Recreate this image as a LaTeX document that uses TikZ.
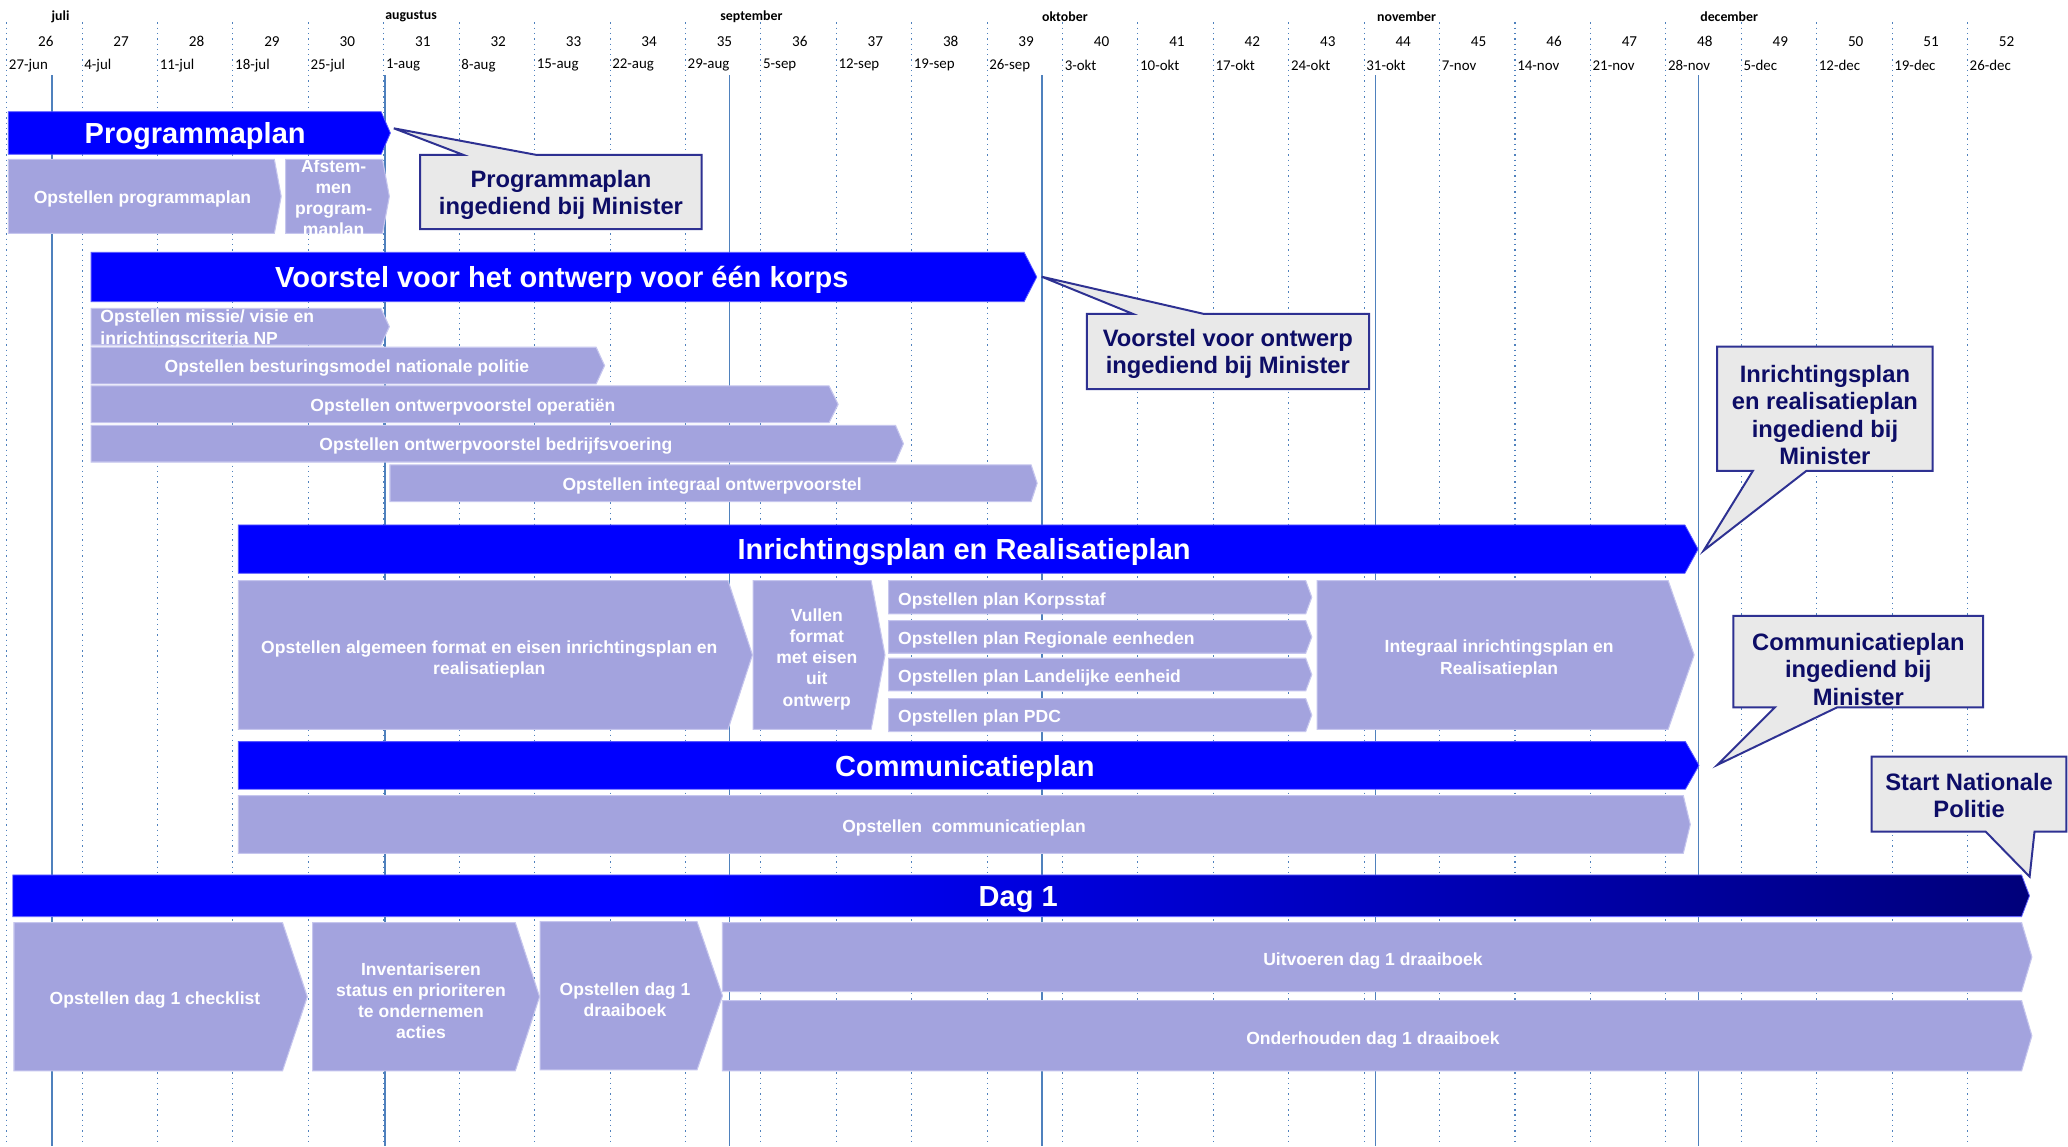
\documentclass[tikz,border=0pt]{standalone}
\usepackage{fontspec}
\setmainfont{Liberation Sans}
\newfontfamily\hdrfont{Carlito}
\definecolor{barblue}{HTML}{0000FF}
\definecolor{lightbox}{HTML}{A3A3DE}
\definecolor{lightedge}{HTML}{C6C6EE}
\definecolor{calfill}{HTML}{E9E9E9}
\definecolor{caledge}{HTML}{2E3192}
\definecolor{caltext}{HTML}{0D0D66}
\definecolor{gridblue}{HTML}{4F81BD}
\definecolor{dagend}{HTML}{00007A}
\pgfdeclarehorizontalshading{dagshade}{100bp}{color(0bp)=(barblue); color(25bp)=(barblue); color(42bp)=(barblue); color(75bp)=(dagend); color(100bp)=(dagend)}
\newcommand{\chevbox}[6]{\path[#1] (#2,#3) -- (#4,#3) -- ({#4+#6},{(#3+#5)/2}) -- (#4,#5) -- (#2,#5) -- cycle;}
\newcommand{\chevclip}[5]{\clip (#1,#2) -- (#3,#2) -- ({#3+#5},{(#2+#4)/2}) -- (#3,#4) -- (#1,#4) -- cycle;}
\tikzset{
  bluebar/.style={fill=barblue, draw=barblue!65!white, line width=0.6},
  lightbar/.style={fill=lightbox, draw=lightedge, line width=0.8},
  dagbar/.style={shading=dagshade, draw=barblue!60!white, line width=0.6},
  callbox/.style={fill=calfill, draw=caledge, line width=1.5, line join=miter},
  griddot/.style={draw=gridblue, line width=0.8, dash pattern=on 1pt off 3pt},
  gridsolid/.style={draw=gridblue, line width=1.1},
  barlbl/.style={text=white, font=\bfseries\fontsize{22}{24}\selectfont, inner sep=0, yshift=-2.5pt},
  boxlbl/.style={text=white, font=\bfseries\fontsize{13.3}{16}\selectfont, align=center, inner sep=0, yshift=-2pt},
  calllbl/.style={text=caltext, font=\bfseries\fontsize{18}{20.8}\selectfont, align=center, inner sep=0, yshift=-1.5pt},
  hdrmonth/.style={font=\hdrfont\bfseries\fontsize{10.5}{12}\selectfont, inner sep=0, anchor=west},
  hdrnum/.style={font=\hdrfont\fontsize{11.5}{13}\selectfont, inner sep=0},
  hdrdate/.style={font=\hdrfont\fontsize{11.3}{13}\selectfont, inner sep=0, anchor=west}
}
\begin{document}
\begin{tikzpicture}[x=1pt,y=-1pt]
\useasboundingbox (0,0) rectangle (1568,869);
\fill[white] (0,0) rectangle (1568,869);
% grid
\foreach \k in {0,...,26} \draw[griddot] ({5.1+57.18*\k},17) -- ({5.1+57.18*\k},869);
\foreach \x in {39.5,292,553,790,1043,1288} \draw[gridsolid] (\x,57) -- (\x,869);
% header
\node[hdrmonth] (mJul) at (39,12.6) {juli};
\node[hdrmonth] (mAug) at (292,12.6) {augustus};
\node[hdrmonth] (mSep) at (546,12.6) {september};
\node[hdrmonth] (mOkt) at (790,12.6) {oktober};
\node[hdrmonth] (mNov) at (1044,12.6) {november};
\node[hdrmonth] (mDec) at (1289,12.6) {december};
\foreach \k in {0,...,26} {
  \pgfmathtruncatemacro{\wk}{26+\k}
  \node[hdrnum] (w\wk) at ({5.1+57.18*(\k+0.5)+1},31.6) {\wk};
}
\foreach \d [count=\k from 0] in {27-jun,4-jul,11-jul,18-jul,25-jul,1-aug,8-aug,15-aug,22-aug,29-aug,5-sep,12-sep,19-sep,26-sep,3-okt,10-okt,17-okt,24-okt,31-okt,7-nov,14-nov,21-nov,28-nov,5-dec,12-dec,19-dec,26-dec}
  \node[hdrdate] (d\k) at ({5.1+57.18*\k+1.5},49.5) {\d};

% ---------- Programmaplan
\chevbox{bluebar}{6.3}{84.7}{289}{117}{7}
\node[barlbl] (progbar) at (148,101) {Programmaplan};
\coordinate (progtip) at (298.6,97.3);
\chevbox{lightbar}{6.3}{120.8}{208}{177}{5.2}
\node[boxlbl] (opprog) at (108,149) {Opstellen programmaplan};
\chevbox{lightbar}{216.5}{120.8}{290}{177}{5.2}
\begin{scope}\chevclip{216.5}{120.8}{290}{177}{5.2}
\node[boxlbl] (afst) at (253,149) {Afstem-\\men\\program-\\maplan};
\end{scope}

% ---------- Voorstel
\chevbox{bluebar}{69.1}{191.3}{776.5}{228.7}{9.6}
\node[barlbl] (voorbar) at (426,210) {Voorstel voor het ontwerp voor één korps};
\coordinate (voortip) at (789.8,209.8);
\chevbox{lightbar}{69.1}{233.8}{288.8}{261.6}{6.4}
\begin{scope}\chevclip{69.1}{233.8}{288.8}{261.6}{6.4}
\node[boxlbl, align=left, anchor=north west] (missie) at (76,233) {Opstellen missie/ visie en\\inrichtingscriteria NP};
\end{scope}
\chevbox{lightbar}{69.1}{263.3}{452}{291.1}{6.4}
\node[boxlbl] (bestur) at (263,277.2) {Opstellen besturingsmodel nationale politie};
\chevbox{lightbar}{69.1}{292.6}{628.6}{320.5}{6.9}
\node[boxlbl] (operat) at (351,306.6) {Opstellen ontwerpvoorstel operatiën};
\chevbox{lightbar}{69.1}{322.5}{679}{350.3}{6}
\node[boxlbl] (bedrijf) at (376,336.4) {Opstellen ontwerpvoorstel bedrijfsvoering};
\chevbox{lightbar}{295.7}{352.5}{781.8}{380.3}{4.6}
\node[boxlbl] (integr) at (540,366.4) {Opstellen integraal ontwerpvoorstel};

% ---------- Inrichtingsplan
\chevbox{bluebar}{180.7}{398}{1277.5}{434.7}{10}
\node[barlbl] (inrbar) at (731,416.4) {Inrichtingsplan en Realisatieplan};
\coordinate (inrtip) at (1291.7,417.5);
\chevbox{lightbar}{180.7}{440.2}{552}{553}{18.5}
\node[boxlbl] (algem) at (371,498) {Opstellen algemeen format en eisen inrichtingsplan en\\realisatieplan};
\chevbox{lightbar}{571}{440.2}{660.5}{553}{10.5}
\node[boxlbl] (vullen) at (619.3,497.9) {Vullen\\format\\met eisen\\uit\\ontwerp};
\chevbox{lightbar}{673.8}{440.2}{990}{465.5}{4.6}
\node[boxlbl, anchor=west] (korps) at (680.8,453.4) {Opstellen plan Korpsstaf};
\chevbox{lightbar}{673.8}{470.6}{990}{495.3}{4.6}
\node[boxlbl, anchor=west] (regio) at (680.8,483.5) {Opstellen plan Regionale eenheden};
\chevbox{lightbar}{673.8}{499.1}{990}{523.9}{4.6}
\node[boxlbl, anchor=west] (landel) at (680.8,512.3) {Opstellen plan Landelijke eenheid};
\chevbox{lightbar}{673.8}{529.7}{990}{554.7}{4.6}
\node[boxlbl, anchor=west] (pdc) at (680.8,542.6) {Opstellen plan PDC};
\chevbox{lightbar}{998.6}{440.2}{1264.8}{553}{19.7}
\node[boxlbl] (integ2) at (1136.7,497.6) {Integraal inrichtingsplan en\\Realisatieplan};

% ---------- Communicatieplan
\chevbox{bluebar}{180.7}{562.3}{1277.9}{598.4}{10.3}
\node[barlbl] (combar) at (731.6,580.8) {Communicatieplan};
\coordinate (comtip) at (1302,580);
\chevbox{lightbar}{180.7}{603.2}{1276.3}{647}{5.3}
\node[boxlbl] (opcom) at (731,625.6) {Opstellen\ \ communicatieplan};

% ---------- Dag 1
\chevbox{dagbar}{9.7}{663.4}{1532.8}{695}{6}
\node[barlbl] (dagbar) at (772,679.6) {Dag 1};
\coordinate (dagtip) at (1538.9,664.7);
\chevbox{lightbar}{10.6}{699.5}{214.2}{812}{18.8}
\node[boxlbl] (check) at (117.5,756.4) {Opstellen dag 1 checklist};
\chevbox{lightbar}{237}{699.5}{390.7}{812}{18.4}
\node[boxlbl] (invent) at (319.2,756.7) {Inventariseren\\status en prioriteren\\te ondernemen\\acties};
\chevbox{lightbar}{409.6}{698.8}{528.5}{811.2}{19.3}
\node[boxlbl] (draaib) at (473.9,755.9) {Opstellen dag 1\\draaiboek};
\chevbox{lightbar}{547.8}{699.5}{1532.8}{751.8}{7.8}
\node[boxlbl] (uitv) at (1041,726.3) {Uitvoeren dag 1 draaiboek};
\chevbox{lightbar}{547.8}{758.7}{1532.8}{812}{7.8}
\node[boxlbl] (onderh) at (1041,786.2) {Onderhouden dag 1 draaiboek};

% ---------- callouts
\path[callbox] (318.5,117.5) -- (351.5,117.5) -- (progtip) -- (407,117.5) -- (532,117.5) -- (532,173.8) -- (318.5,173.8) -- cycle;
\node[calllbl] (cprog) at (425.3,146.5) {Programmaplan\\ingediend bij Minister};
\path[callbox] (824,238) -- (859,238) -- (voortip) -- (912.7,238) -- (1038,238) -- (1038,295) -- (824,295) -- cycle;
\node[calllbl] (cvoor) at (931,267) {Voorstel voor ontwerp\\ingediend bij Minister};
\path[callbox] (1302,262.9) -- (1465.4,262.9) -- (1465.4,357.1) -- (1369.5,357.1) -- (inrtip) -- (1329,357.1) -- (1302,357.1) -- cycle;
\node[calllbl] (cinr) at (1383.7,313.3) {Inrichtingsplan\\en realisatieplan\\ingediend bij\\Minister};
\path[callbox] (1314.3,467) -- (1503.6,467) -- (1503.6,536.3) -- (1393,536.3) -- (comtip) -- (1345.8,536.3) -- (1314.3,536.3) -- cycle;
\node[calllbl] (ccom) at (1409,506) {Communicatieplan\\ingediend bij\\Minister};
\path[callbox] (1419,573.7) -- (1566.7,573.7) -- (1566.7,630.5) -- (1542.6,630.5) -- (dagtip) -- (1505.5,630.5) -- (1419,630.5) -- cycle;
\node[calllbl] (cstart) at (1493,601.8) {Start Nationale\\Politie};
\end{tikzpicture}
\end{document}
